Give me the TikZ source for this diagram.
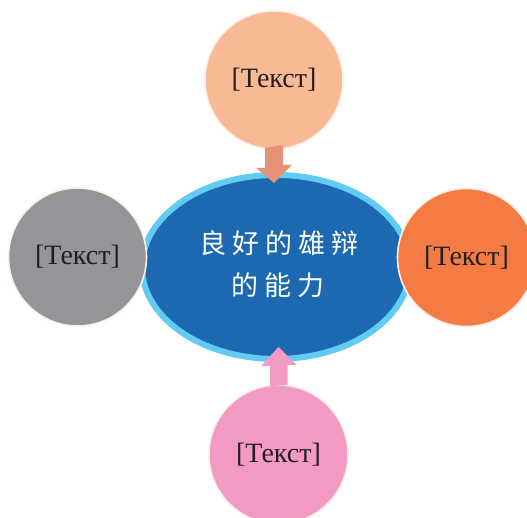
\documentclass[tikz,border=0pt]{standalone}
\usepackage{fontspec}
\setmainfont{Liberation Serif}
\newfontfamily\cjk{Noto Sans CJK SC}
\definecolor{cPeach}{HTML}{F9B995}
\definecolor{cGray}{HTML}{939598}
\definecolor{cOrange}{HTML}{F47B43}
\definecolor{cPink}{HTML}{F29AC4}
\definecolor{cArrowTop}{HTML}{E69276}
\definecolor{cArrowBot}{HTML}{F29AC4}
\definecolor{cBlue}{HTML}{1C68B1}
\definecolor{cLight}{HTML}{62CBF4}
\definecolor{cRim}{HTML}{FDEDE3}
\definecolor{cText}{HTML}{231F20}
\tikzset{
  x=1pt,y=1pt,
  bubble/.style={circle, minimum size=138pt, inner sep=0pt, draw=cRim, line width=1.6pt,
    text=cText, font=\fontsize{28}{30}\selectfont},
  hub/.style={ellipse, minimum width=268pt, minimum height=184pt, inner sep=0pt,
    fill=cBlue, draw=cLight, line width=6pt},
  hubtext/.style={text=white, font=\cjk\fontsize{27}{30}\selectfont},
}
\usetikzlibrary{shapes.geometric}
\begin{document}
\begin{tikzpicture}
\useasboundingbox (0,0) rectangle (527,518);
\clip (0,0) rectangle (527,518);
\node[hub] (hub) at (276,251) {};
\node[hubtext] (l1) at (279,275) {良\kern6pt 好\kern6pt 的\kern6pt 雄\kern6pt 辩};
\node[hubtext] (l2) at (278,233) {的\kern6pt 能\kern6pt 力};
\node[bubble, fill=cPeach] (top) at (274,438) {[Текст]};
\node[bubble, fill=cGray] (left) at (77.5,261) {[Текст]};
\node[bubble, fill=cOrange] (right) at (466.5,260.5) {[Текст]};
\node[bubble, fill=cPink, minimum size=139pt] (bot) at (278.5,63.5) {[Текст]};
% top arrow
\coordinate (ttip) at (274,335);
\fill[cArrowTop] (top.south) ++(-9,2) -- ++(0,-20) -- ++(-9,0) -- (ttip) -- ++(18,18) -- ++(-9,0) -- ++(0,20) -- cycle;
% bottom arrow
\coordinate (btip) at (278.5,171);
\fill[cArrowBot] (bot.north) ++(-8.5,-2) -- ++(0,20) -- ++(-9,0) -- (btip) -- ++(18,-18) -- ++(-9,0) -- ++(0,-20) -- cycle;
\end{tikzpicture}
\end{document}
